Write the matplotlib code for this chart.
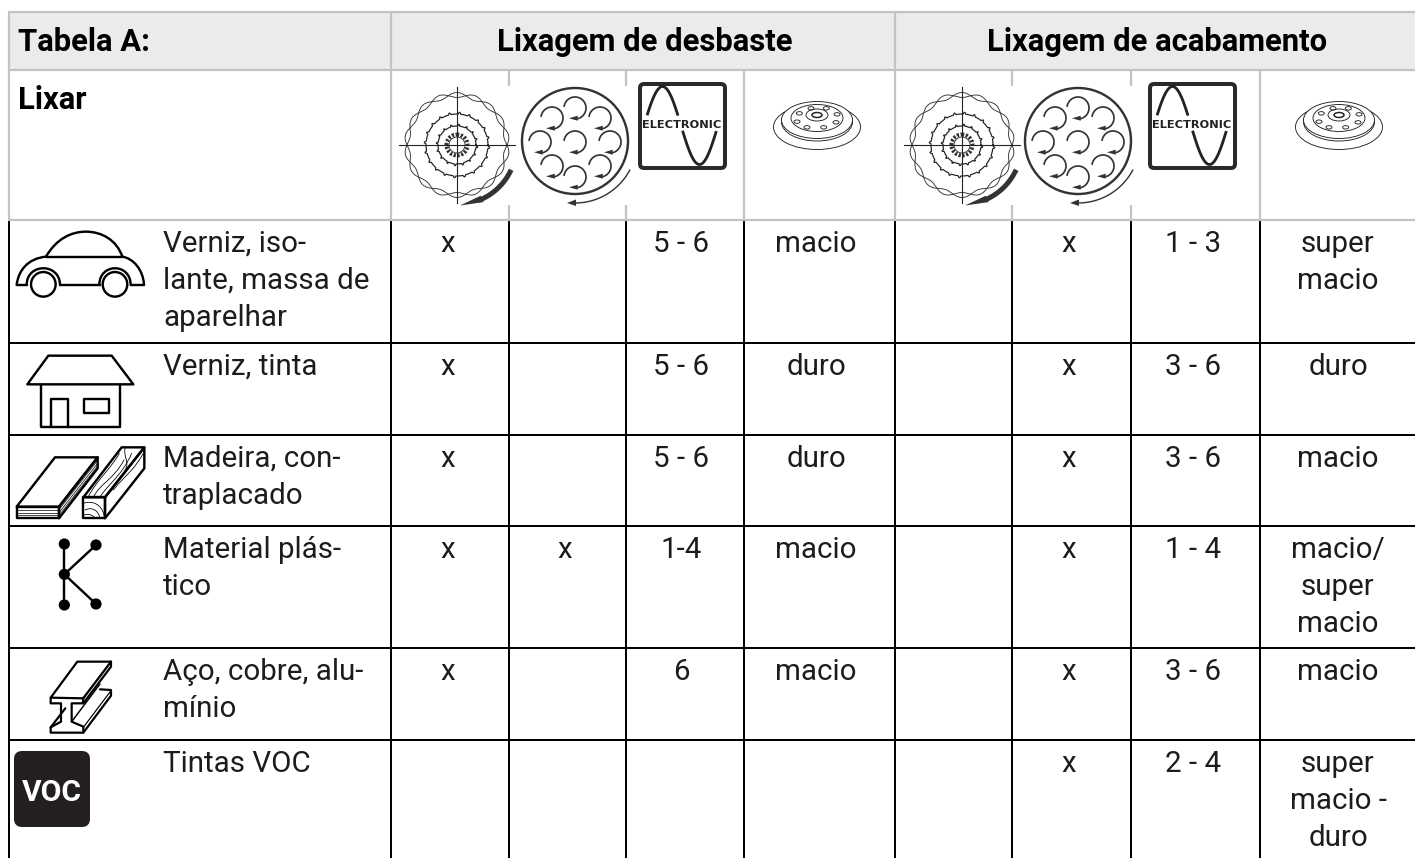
import numpy as np
import matplotlib
matplotlib.use("Agg")
import matplotlib.pyplot as plt
from matplotlib.patches import Rectangle, Circle, Ellipse, FancyBboxPatch, Polygon, PathPatch
from matplotlib.path import Path

# ---------- table content ----------
title_cell = "Tabela A:"
group_titles = ["Lixagem de desbaste", "Lixagem de acabamento"]
sub_title = "Lixar"
materials = [
    ["Verniz, iso-", "lante, massa de", "aparelhar"],
    ["Verniz, tinta"],
    ["Madeira, con-", "traplacado"],
    ["Material plás-", "tico"],
    ["Aço, cobre, alu-", "mínio"],
    ["Tintas VOC"],
]
coarse_rotary = ["x", "x", "x", "x", "x", ""]
coarse_orbital = ["", "", "", "x", "", ""]
coarse_speed = ["5 - 6", "5 - 6", "5 - 6", "1-4", "6", ""]
coarse_pad = [["macio"], ["duro"], ["duro"], ["macio"], ["macio"], []]
fine_rotary = ["", "", "", "", "", ""]
fine_orbital = ["x", "x", "x", "x", "x", "x"]
fine_speed = ["1 - 3", "3 - 6", "3 - 6", "1 - 4", "3 - 6", "2 - 4"]
fine_pad = [["super", "macio"], ["duro"], ["macio"], ["macio/", "super", "macio"],
            ["macio"], ["super", "macio -", "duro"]]

# ---------- layout (pixels) ----------
W, H = 1415, 858
col_edges = [9, 391, 509, 626, 744, 895, 1012, 1131, 1260]
col_text_x = [447.5, 565, 681, 816, 953, 1069, 1193, 1338]
row_edges = [220, 343, 435, 526, 648, 740, 858]
head_top, head_mid = 12, 70
GREY, HEAD_BG, INK = "#c3c3c3", "#ebebeb", "#1c1c1c"
FONT = "Roboto"
px = 72 / 100
BODY = 29.5 * px
BOLD = 31 * px
LINE = 37

fig = plt.figure(figsize=(W / 100, H / 100), dpi=100)
ax = fig.add_axes([0, 0, 1, 1])
ax.set_xlim(0, W)
ax.set_ylim(H, 0)
ax.axis("off")

LW = 2 * px
ax.add_patch(Rectangle((col_edges[0], head_top), W - col_edges[0], head_mid - head_top, fc=HEAD_BG, ec="none", zorder=1))

# black body grid
for x in col_edges:
    ax.plot([x, x], [row_edges[0], H], color="black", lw=LW, solid_capstyle="butt", zorder=2)
for y in row_edges[1:-1]:
    ax.plot([col_edges[0], W], [y, y], color="black", lw=LW, solid_capstyle="butt", zorder=2)
# grey header grid
for y in [head_top, head_mid, row_edges[0]]:
    ax.plot([col_edges[0] - 1, W], [y, y], color=GREY, lw=LW * 1.1, solid_capstyle="butt", zorder=3)
for x in [col_edges[0], col_edges[1], col_edges[5]]:
    ax.plot([x, x], [head_top, row_edges[0]], color=GREY, lw=LW * 1.1, solid_capstyle="butt", zorder=3)
for x in [col_edges[4], col_edges[8]]:
    ax.plot([x, x], [head_mid, row_edges[0]], color=GREY, lw=LW * 1.1, solid_capstyle="butt", zorder=3)
for x in [col_edges[2], col_edges[3], col_edges[6], col_edges[7]]:
    for a, b in [(head_mid, 86), (205, row_edges[0])]:
        ax.plot([x, x], [a, b], color=GREY, lw=LW * 1.1, solid_capstyle="butt", zorder=3)

def txt(x, y, s, **kw):
    kw.setdefault("color", INK)
    kw.setdefault("family", FONT)
    kw.setdefault("fontsize", BODY)
    kw.setdefault("va", "baseline")
    ax.text(x, y, s, zorder=6, **kw)

txt(18, 51, title_cell, weight="bold", color="black", fontsize=BOLD)
txt(645, 51, group_titles[0], weight="bold", color="black", fontsize=BOLD, ha="center")
txt(1157.5, 51, group_titles[1], weight="bold", color="black", fontsize=BOLD, ha="center")
txt(18, 109, sub_title, weight="bold", color="black", fontsize=BOLD)

columns = [coarse_rotary, coarse_orbital, coarse_speed, coarse_pad,
           fine_rotary, fine_orbital, fine_speed, fine_pad]
for r, top in enumerate(row_edges[:-1]):
    base = top + 32
    for i, line in enumerate(materials[r]):
        txt(163, base + i * LINE, line)
    for cx, col in zip(col_text_x, columns):
        val = col[r]
        lines = val if isinstance(val, list) else [val]
        for i, line in enumerate(lines):
            if line:
                txt(cx, base + i * LINE, line, ha="center")

# ---------- pictograms ----------
def curve(verts, lw=1.6, color="black", fill=None, closed=False, z=5):
    """verts: first point then groups; 2 tuple = line target, 3 pts (c1,c2,end) = bezier"""
    vs, codes = [verts[0]], [Path.MOVETO]
    for seg in verts[1:]:
        if len(seg) == 3:
            vs += list(seg)
            codes += [Path.CURVE4] * 3
        else:
            vs.append(seg)
            codes.append(Path.LINETO)
    if closed:
        vs.append(verts[0])
        codes.append(Path.CLOSEPOLY)
    ax.add_patch(PathPatch(Path(vs, codes), fc=fill if fill else "none", ec=color, lw=lw * px, zorder=z,
                           capstyle="round", joinstyle="round"))

def zoomed(ox, oy):
    return lambda x, y: (ox + x / 3, oy + y / 3)

def car():
    c = zoomed(0, 190)
    curve([c(138, 200), (c(170, 145), c(215, 125), c(258, 125)), (c(305, 125), c(350, 150), c(367, 200))], 2.4)
    curve([c(138, 200), c(367, 200)], 2.4)
    curve([c(50, 285), (c(55, 240), c(85, 205), c(138, 200))], 2.4)
    curve([c(367, 200), (c(400, 205), c(430, 240), c(432, 285))], 2.4)
    curve([c(50, 285), c(80, 285)], 2.4)
    curve([c(180, 285), c(300, 285)], 2.4)
    curve([c(392, 285), c(432, 285)], 2.4)
    curve([c(80, 285), (c(80, 218), c(180, 218), c(180, 285))], 2.4)
    curve([c(298, 285), (c(298, 218), c(392, 218), c(392, 285))], 2.4)
    for wx in (130, 345):
        ax.add_patch(Circle(c(wx, 283), 12.3, fc="white", ec="black", lw=2.4 * px, zorder=5))

def house():
    c = zoomed(0, 190)
    curve([c(82, 583), c(145, 497), c(335, 497), c(400, 583)], 2.4, closed=True)
    curve([c(122, 585), c(122, 712), c(360, 712), c(360, 585)], 2.4)
    curve([c(152, 712), c(152, 628), c(205, 628), c(205, 712)], 2.4)
    curve([c(252, 628), c(327, 628), c(327, 670), c(252, 670)], 2.4, closed=True)

def wood():
    c = zoomed(0, 190)
    curve([c(50, 950), c(165, 802), c(293, 802), c(177, 950)], 2.4, closed=True)
    curve([c(50, 950), c(177, 950), c(177, 985), c(50, 985)], 2.4, closed=True)
    curve([c(177, 950), c(293, 802), c(293, 835), c(177, 985)], 2.4, closed=True)
    for y in (960, 968, 976):
        curve([c(50, y), c(177, y)], 0.7)
    for d in (9, 18, 26):
        curve([c(177, 950 + d), c(293, 802 + d)], 0.7)
    curve([c(250, 922), c(365, 772), c(433, 772), c(315, 922)], 2.4, closed=True)
    curve([c(250, 922), c(315, 922), c(315, 985), c(250, 985)], 2.4, closed=True)
    curve([c(315, 922), c(433, 772), c(433, 835), c(315, 985)], 2.4, closed=True)
    curve([c(255, 960), (c(275, 950), c(295, 960), c(300, 985))], 0.8)
    curve([c(250, 940), (c(280, 930), c(305, 945), c(312, 975))], 0.8)
    curve([c(252, 975), (c(265, 970), c(280, 975), c(285, 985))], 0.8)
    curve([c(280, 922), (c(300, 880), c(340, 870), c(372, 810))], 0.8)
    curve([c(300, 922), (c(320, 885), c(365, 860), c(395, 790))], 0.8)
    curve([c(265, 920), (c(290, 870), c(330, 840), c(358, 790))], 0.8)
    curve([c(340, 900), (c(380, 850), c(395, 850), c(430, 790))], 0.8)
    curve([c(375, 775), (c(370, 800), c(390, 820), c(375, 840))], 0.8)

def plastic():
    c = zoomed(0, 530)
    hub = c(193, 133)
    for p in (c(193, 42), c(193, 225), c(288, 45), c(288, 222)):
        curve([hub, p], 2.4)
        ax.add_patch(Circle(p, 5.6, fc="black", ec="none", zorder=5))
    ax.add_patch(Circle(hub, 5.6, fc="black", ec="none", zorder=5))

def beam():
    c = zoomed(0, 530)
    curve([c(152, 503), c(232, 395), c(333, 395), c(250, 505)], 2.2, closed=True)
    curve([c(152, 503), c(152, 520), c(183, 520), c(183, 575), c(152, 592), c(152, 608), c(250, 608),
           c(250, 590), c(215, 575), c(215, 520), c(248, 520), c(250, 505)], 2.2)
    curve([c(250, 520), c(333, 410), c(333, 395)], 2.2)
    curve([c(250, 608), c(333, 497), c(333, 480), c(300, 478)], 2.2)
    curve([c(250, 592), c(333, 482)], 1.2)
    curve([c(215, 575), c(300, 462)], 1.5)
    curve([c(248, 505), c(325, 405)], 1.2)
    curve([c(152, 592), c(196, 535)], 2.2)

def voc():
    ax.add_patch(FancyBboxPatch((17, 754), 70, 70, boxstyle="round,pad=0,rounding_size=5", mutation_aspect=1,
                                fc="#231f20", ec="#231f20", lw=6 * px, zorder=5))
    txt(52, 801, "VOC", color="white", weight="bold", ha="center", fontsize=30 * px)

def rotary(cx, cy):
    th = np.linspace(0, 2 * np.pi, 720)
    for sgn in (1, -1):
        r = 50 + sgn * 2.5 * np.sin(9 * th)
        ax.plot(cx + r * np.cos(th), cy + r * np.sin(th), color="#333333", lw=0.9 * px, zorder=5)
    for R, n in ((31, 20), (19, 16)):
        r = R + 6 * (np.clip(np.sin(n * th), 0.7, 1) - 0.7)
        ax.plot(cx + r * np.cos(th), cy + r * np.sin(th), color="#222222", lw=1.2 * px, zorder=5)
    ax.add_patch(Circle((cx, cy), 10.5, fc="none", ec="#333333", lw=4 * px, ls=(0, (0.55, 0.4)), zorder=5))
    ax.add_patch(Circle((cx, cy), 8, fc="none", ec="#333333", lw=0.9 * px, zorder=5))
    ax.plot([cx - 58, cx + 58], [cy, cy], color="#222222", lw=1.1 * px, zorder=5)
    ax.plot([cx, cx], [cy - 58, cy + 58], color="#222222", lw=1.1 * px, zorder=5)
    # thick arrow
    a = np.radians(np.linspace(27, 65, 30))
    ax.plot(cx + 59.5 * np.cos(a), cy + 59.5 * np.sin(a), color="#333333", lw=5 * px, zorder=5)
    a2 = np.radians(65)
    ax.add_patch(Polygon([(cx + 56 * np.cos(a2), cy + 56 * np.sin(a2)),
                          (cx + 63 * np.cos(a2), cy + 63 * np.sin(a2)),
                          (cx + 3, cy + 60.5)], fc="#333333", ec="none", zorder=5))

def orbital(cx, cy):
    ax.add_patch(Circle((cx, cy), 53, fc="none", ec="#333333", lw=2.4 * px, zorder=5))
    th = np.radians(np.linspace(-170, 85, 60))
    offs = [(0, -33), (-23, -23), (25, -23), (-35, 1), (0, 1), (35, 1), (-23, 25), (25, 25), (0, 36)]
    for ox, oy in offs:
        x0, y0 = cx + ox, cy + oy
        ax.plot(x0 + 11 * np.cos(th), y0 + 11 * np.sin(th), color="#333333", lw=1.7 * px, zorder=5)
        ax.add_patch(Polygon([(x0 - 6, y0 + 10.3), (x0 + 2.7, y0 + 7.7), (x0 + 2.7, y0 + 12.7)],
                             fc="#333333", ec="none", zorder=5))
    a = np.radians(np.linspace(28, 94, 40))
    ax.plot(cx + 62 * np.cos(a), cy + 62 * np.sin(a), color="#333333", lw=1.4 * px, zorder=5)
    ax.add_patch(Polygon([(cx - 8, cy + 62), (cx + 1, cy + 58.5), (cx + 1, cy + 65)], fc="#333333", ec="none", zorder=5))

def electronic(xl, xm):
    ax.add_patch(FancyBboxPatch((xl, 84), 85, 84, boxstyle="round,pad=0,rounding_size=4",
                                fc="white", ec="#2a2a2a", lw=4 * px, zorder=4))
    t = np.linspace(-36, 36, 200)
    y = 125.5 + 39 * np.sin(np.pi * t / 37)
    for side, keep in (("left", (t < 0) & (y < 115)), ("right", (t > 0) & (y > 132))):
        ax.plot(xm + t[keep], y[keep], color="#222222", lw=2.8 * px, zorder=5)
    txt(xl + 42, 124.5, "ELECTRONIC", family="DejaVu Sans", weight="bold", fontsize=11.4 * px, ha="center", va="center", color="#222222")

def pad(cx):
    k = dict(fc="none", ec="#222222", lw=0.9 * px, zorder=5)
    ax.add_patch(Ellipse((cx, 127), 87, 45, **k))
    ax.add_patch(Ellipse((cx, 122), 71, 38, fc="white", ec="#222222", lw=0.9 * px, zorder=5))
    ax.add_patch(Ellipse((cx, 120), 71, 37, fc="white", ec="#222222", lw=0.9 * px, zorder=5))
    ax.add_patch(Ellipse((cx, 118), 52, 27, **k))
    ax.add_patch(Ellipse((cx, 115), 22, 12, **k))
    ax.add_patch(Ellipse((cx, 115), 10, 5, fc="none", ec="#222222", lw=1.5 * px, zorder=5))
    holes = [(522, 130), (515, 155), (545, 172), (595, 172), (632, 157), (635, 133), (603, 115), (557, 115)]
    for hx, hy in holes:
        ax.add_patch(Ellipse((cx + (hx - 575) / 3, 70 + hy / 3), 6, 3.4, **k))

car(); house(); wood(); plastic(); beam(); voc()
rotary(457, 145); rotary(962, 145)
orbital(575, 141); orbital(1078, 141)
electronic(640, 681); electronic(1150, 1191)
pad(817); pad(1339)

fig.savefig("out.png", dpi=100)
